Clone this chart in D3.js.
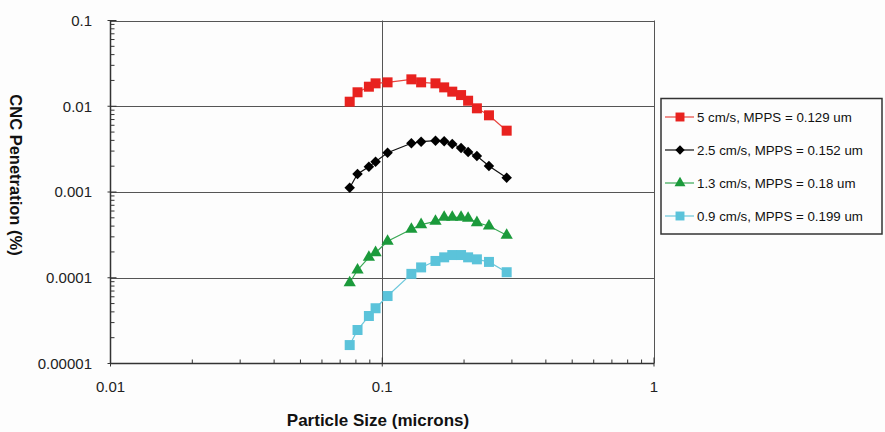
<!DOCTYPE html>
<html lang="en">
<head>
  <meta charset="UTF-8">
  <title>CNC Penetration vs Particle Size</title>
  <script src="https://cdnjs.cloudflare.com/ajax/libs/d3/7.8.5/d3.min.js"></script>
  <style>
    body { margin: 0; background: #fdfdfd; }
    svg { display: block; font-family: "Liberation Sans", Arial, sans-serif; }
    .grid line { stroke: #555; stroke-width: 1; }
    .tick-label { font-size: 15px; fill: #222; }
    .axis-title { font-size: 17px; font-weight: bold; fill: #111; }
    .legend text { font-size: 13px; fill: #111; }
  </style>
</head>
<body>
  <svg width="885" height="432"></svg>
  <script>
    // particle sizes (microns), shared by all series
    const sizes = [0.0759, 0.0811, 0.0893, 0.0945, 0.1046, 0.128, 0.139, 0.157,
                   0.169, 0.181, 0.195, 0.207, 0.223, 0.247, 0.287]

    // penetration values (%)
    const pen5cm = [0.0113, 0.01455, 0.0169, 0.0185, 0.0190, 0.0206, 0.0190, 0.0185,
                    0.0166, 0.0148, 0.0135, 0.0116, 0.00946, 0.00784, 0.00519]
    const pen25cm = [0.00112, 0.00162, 0.00197, 0.00226, 0.00287, 0.00370, 0.00386, 0.00397,
                     0.00390, 0.00363, 0.00326, 0.00292, 0.00263, 0.00201, 0.00147]
    const pen13cm = [0.0000875, 0.000123, 0.000173, 0.000196, 0.000266, 0.000367, 0.000416, 0.000455,
                     0.000507, 0.000507, 0.000507, 0.000494, 0.000439, 0.000401, 0.000313]
    const pen09cm = [0.0000164, 0.0000246, 0.0000358, 0.0000441, 0.0000612, 0.000111, 0.000132, 0.000157,
                     0.000173, 0.000184, 0.000184, 0.000173, 0.000164, 0.000153, 0.000116]

    const seriesNames = ["5 cm/s, MPPS = 0.129 um", "2.5 cm/s, MPPS = 0.152 um",
                         "1.3 cm/s, MPPS = 0.18 um", "0.9 cm/s, MPPS = 0.199 um"]

    const xTicks = [0.01, 0.1, 1]
    const yTicks = [0.00001, 0.0001, 0.001, 0.01, 0.1]
    const yTickLabels = ["0.00001", "0.0001", "0.001", "0.01", "0.1"]

    // diamond = square turned 45 degrees
    const series = [
      { name: seriesNames[0], values: pen5cm,  color: "#e8221f", line: "#e8453f", shape: d3.symbolSquare,   size: 100, rot: 0 },
      { name: seriesNames[1], values: pen25cm, color: "#000000", line: "#111111", shape: d3.symbolSquare,   size: 55,  rot: 45 },
      { name: seriesNames[2], values: pen13cm, color: "#1b9a3b", line: "#3aa855", shape: d3.symbolTriangle, size: 65,  rot: 0 },
      { name: seriesNames[3], values: pen09cm, color: "#5bc3da", line: "#6cc8dc", shape: d3.symbolSquare,   size: 100, rot: 0 }
    ]

    const svg = d3.select("svg")
    const plotL = 110.5, plotR = 654, plotT = 20.5, plotB = 363.5

    const x = d3.scaleLog().domain([0.01, 1]).range([plotL, plotR])
    const y = d3.scaleLog().domain([0.00001, 0.1]).range([plotB, plotT])

    // grid lines
    const grid = svg.append("g").attr("class", "grid")
    grid.selectAll(".h").data(yTicks.slice(1)).join("line")
      .attr("x1", plotL).attr("x2", plotR)
      .attr("y1", d => Math.round(y(d)) + 0.5).attr("y2", d => Math.round(y(d)) + 0.5)
    grid.selectAll(".v").data(xTicks.slice(1)).join("line")
      .attr("x1", d => Math.round(x(d)) + 0.5).attr("x2", d => Math.round(x(d)) + 0.5)
      .attr("y1", plotT).attr("y2", plotB)

    // axes lines
    const axes = svg.append("g").attr("stroke", "#333").attr("stroke-width", 1.5)
    axes.append("line").attr("x1", plotL).attr("x2", plotL).attr("y1", plotT).attr("y2", plotB)
    axes.append("line").attr("x1", plotL).attr("x2", plotR).attr("y1", plotB).attr("y2", plotB)

    // minor ticks (inside)
    const minorX = [], minorY = []
    ;[0.01, 0.1].forEach(d => { for (let k = 2; k < 10; k++) minorX.push(d * k) })
    ;[0.00001, 0.0001, 0.001, 0.01].forEach(d => { for (let k = 2; k < 10; k++) minorY.push(d * k) })
    const ticks = svg.append("g").attr("stroke", "#333").attr("stroke-width", 1)
    ticks.selectAll(".mx").data(minorX).join("line")
      .attr("x1", d => x(d)).attr("x2", d => x(d))
      .attr("y1", plotB).attr("y2", plotB - 4)
    ticks.selectAll(".my").data(minorY).join("line")
      .attr("y1", d => y(d)).attr("y2", d => y(d))
      .attr("x1", plotL).attr("x2", plotL + 4)
    ticks.selectAll(".My").data(yTicks).join("line")
      .attr("y1", d => y(d)).attr("y2", d => y(d))
      .attr("x1", plotL - 3).attr("x2", plotL + 6)
    ticks.selectAll(".Mx").data(xTicks).join("line")
      .attr("x1", d => x(d)).attr("x2", d => x(d))
      .attr("y1", plotB + 3).attr("y2", plotB - 6)

    // tick labels
    svg.selectAll(".ylab").data(yTicks).join("text")
      .attr("class", "tick-label")
      .attr("x", 92).attr("y", d => y(d))
      .attr("dy", "0.35em").attr("text-anchor", "end")
      .text((d, i) => yTickLabels[i])
    svg.selectAll(".xlab").data(xTicks).join("text")
      .attr("class", "tick-label")
      .attr("x", d => x(d)).attr("y", 392)
      .attr("text-anchor", "middle")
      .text(d => d3.format("~g")(d))

    // axis titles
    svg.append("text").attr("class", "axis-title")
      .attr("x", 378).attr("y", 426).attr("text-anchor", "middle")
      .text("Particle Size (microns)")
    svg.append("text").attr("class", "axis-title")
      .style("font-size", "16.5px")
      .attr("transform", "translate(10,175) rotate(90)")
      .attr("text-anchor", "middle")
      .text("CNC Penetration (%)")

    // series
    const line = d3.line().x(d => x(d[0])).y(d => y(d[1]))
    series.forEach(s => {
      const pts = sizes.map((d, i) => [d, s.values[i]])
      svg.append("path").datum(pts)
        .attr("d", line).attr("fill", "none")
        .attr("stroke", s.line).attr("stroke-width", 1.2)
      svg.append("g").selectAll("path").data(pts).join("path")
        .attr("d", d3.symbol().type(s.shape).size(s.size))
        .attr("transform", d => `translate(${x(d[0])},${y(d[1])}) rotate(${s.rot})`)
        .attr("fill", s.color)
    })

    // legend
    const legend = svg.append("g").attr("class", "legend")
    legend.append("rect")
      .attr("x", 661).attr("y", 98.5).attr("width", 221).attr("height", 135.5)
      .attr("fill", "#fdfdfd").attr("stroke", "#333").attr("stroke-width", 1.5)
    const rows = legend.selectAll(".row").data(series).join("g")
      .attr("transform", (d, i) => `translate(0,${117 + i * 33})`)
    rows.append("line")
      .attr("x1", 665).attr("x2", 694).attr("y1", 0).attr("y2", 0)
      .attr("stroke", d => d.line).attr("stroke-width", 1.2)
    rows.append("path")
      .attr("d", d => d3.symbol().type(d.shape).size(d.size * 0.8)())
      .attr("transform", d => `translate(680,0) rotate(${d.rot})`)
      .attr("fill", d => d.color)
    rows.append("text")
      .attr("x", 697).attr("y", 0).attr("dy", "0.35em")
      .style("font-size", "13.3px")
      .text(d => d.name)
  </script>
</body>
</html>
